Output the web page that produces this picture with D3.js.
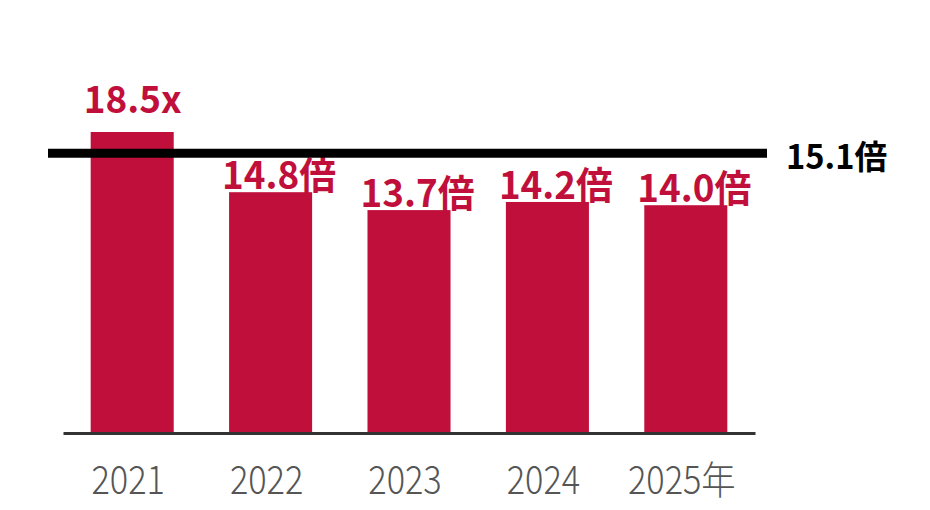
<!DOCTYPE html>
<html>
<head>
<meta charset="utf-8">
<script src="https://cdn.jsdelivr.net/npm/d3@7"></script>
<style>
  body { margin: 0; background: #fff; }
  svg { display: block; }
</style>
</head>
<body>
<svg id="chart" width="930" height="510"></svg>
<script>
var years = ["2021", "2022", "2023", "2024", "2025年"];
var values = [18.5, 14.8, 13.7, 14.2, 14.0];
var valueLabels = ["18.5x", "14.8倍", "13.7倍", "14.2倍", "14.0倍"];
var avgLabel = "15.1倍";
var avgLevel = 17.2; // where the reference line sits on the bar scale

var svg = d3.select("#chart");
var red = "#c10f3b";

var x = d3.scaleBand()
  .domain(years)
  .range([63, 755])
  .paddingInner(0.4)
  .paddingOuter(0.2);

var y = d3.scaleLinear()
  .domain([0, 20])
  .range([433, 107.6]);

// bars
svg.append("g")
  .selectAll("rect")
  .data(values)
  .enter()
  .append("rect")
  .attr("x", function(d, i) { return x(years[i]); })
  .attr("y", function(d) { return y(d); })
  .attr("width", x.bandwidth())
  .attr("height", function(d) { return y(0) - y(d); })
  .attr("fill", red);

// baseline axis
var axis = svg.append("g")
  .attr("transform", "translate(0," + y(0) + ")")
  .call(d3.axisBottom(x).tickSize(0).tickPadding(0));
axis.select(".domain")
  .attr("stroke", "#333")
  .attr("stroke-width", 3);
axis.selectAll(".tick text").remove();

// year labels (light, condensed)
svg.append("g")
  .selectAll("text")
  .data(years)
  .enter()
  .append("text")
  .attr("transform", function(d) {
    return "translate(" + (x(d) + x.bandwidth() / 2 - 4) + ",494) scale(0.88,1)";
  })
  .attr("text-anchor", "middle")
  .attr("font-family", "'Noto Sans CJK JP', 'Noto Sans', sans-serif")
  .attr("font-weight", 300)
  .attr("font-size", 39)
  .attr("fill", "#555")
  .text(function(d) { return d; });

// value labels
svg.append("g")
  .selectAll("text")
  .data(values)
  .enter()
  .append("text")
  .attr("transform", function(d, i) {
    var off = i == 0 ? 19 : 3;
    return "translate(" + (x(years[i]) - 7) + "," + (y(d) - off) + ") scale(0.97,1)";
  })
  .attr("font-family", "'Noto Sans CJK JP', 'Noto Sans', sans-serif")
  .attr("font-weight", 700)
  .attr("font-size", 38)
  .attr("fill", red)
  .text(function(d, i) { return valueLabels[i]; });

// average line
svg.append("line")
  .attr("x1", 48)
  .attr("x2", 767)
  .attr("y1", y(avgLevel))
  .attr("y2", y(avgLevel))
  .attr("stroke", "#000")
  .attr("stroke-width", 9);

svg.append("text")
  .attr("transform", "translate(786," + (y(avgLevel) + 16) + ") scale(0.99,1)")
  .attr("font-family", "'Noto Sans CJK JP', 'Noto Sans', sans-serif")
  .attr("font-weight", 700)
  .attr("font-size", 33)
  .attr("fill", "#000")
  .text(avgLabel);
</script>
</body>
</html>
